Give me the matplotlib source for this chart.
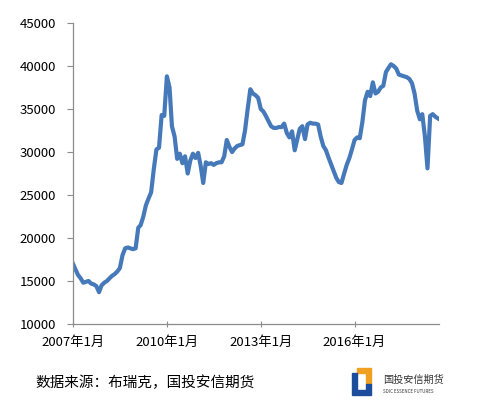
import numpy as np
import pandas as pd
import matplotlib
matplotlib.use("Agg")
import matplotlib.pyplot as plt
import matplotlib.dates as mdates
from matplotlib.patches import Polygon

plt.rcParams['font.family'] = ['Noto Sans CJK SC', 'DejaVu Sans']

# monthly price, 2007-01 .. 2018-09
months = pd.date_range("2007-01-01", periods=141, freq="MS")
price = [
    17000, 16300, 15700, 15300, 14800, 14900, 15000, 14700, 14600, 14400, 13700, 14500,
    14800, 15000, 15300, 15600, 15800, 16100, 16500, 18000, 18800, 18900, 18800, 18700,
    18800, 21200, 21500, 22500, 23800, 24600, 25300, 28000, 30300, 30500, 34300, 34200,
    38800, 37500, 33000, 31800, 29200, 29800, 28700, 29500, 27500, 29000, 29800, 29300,
    29900, 28300, 26400, 28800, 28600, 28700, 28500, 28700, 28800, 28800, 29500, 31400,
    30600, 30000, 30400, 30700, 30800, 30900, 32500, 35000, 37300, 36800, 36600, 36300,
    35000, 34700, 34200, 33600, 33000, 32800, 32800, 32900, 32900, 33300, 32200, 31700,
    32400, 30200, 31400, 32700, 33000, 31500, 33200, 33400, 33300, 33300, 33200, 31800,
    30700, 30200, 29400, 28600, 27800, 27000, 26500, 26400, 27500, 28500, 29300, 30300,
    31400, 31700, 31600, 33500, 36000, 37000, 36500, 38100, 36800, 37000, 37500, 37700,
    39300, 39800, 40200, 40000, 39700, 39000, 38900, 38800, 38700, 38500, 38000, 36800,
    34800, 33800, 34400, 31800, 28100, 34200, 34400, 34100, 33900,
]
tick_dates = pd.to_datetime(["2007-01-01", "2010-01-01", "2013-01-01", "2016-01-01"])
tick_labels = ["2007年1月", "2010年1月", "2013年1月", "2016年1月"]
yticks = [10000, 15000, 20000, 25000, 30000, 35000, 40000, 45000]

fig = plt.figure(figsize=(4.78, 4.11), dpi=100)
ax = fig.add_axes([0.1527, 0.2117, 0.7653, 0.7323])

ax.plot(months, price, color='#4679b9', lw=3.0, solid_joinstyle='round')

ax.set_ylim(10000, 45000)
ax.set_yticks(yticks)
ax.set_yticklabels([str(v) for v in yticks])
ax.set_xlim(pd.Timestamp("2007-01-01"), pd.Timestamp("2018-09-10"))
ax.set_xticks(tick_dates)
ax.set_xticklabels(tick_labels)

for s in ['top', 'right']:
    ax.spines[s].set_visible(False)
for s in ['left', 'bottom']:
    ax.spines[s].set_color('#8c8c8c')
    ax.spines[s].set_linewidth(0.9)
ax.tick_params(axis='y', direction='out', length=4, color='#8c8c8c', labelsize=9.5, pad=8)
ax.tick_params(axis='x', direction='inout', length=5, color='#8c8c8c', labelsize=9.5, pad=6)

fig.text(35 / 478, 1 - 383 / 411, "数据来源：布瑞克，国投安信期货", fontsize=10.5,
         va='center', ha='left', fontweight='medium')

# logo
def px(x, y):
    return (x / 478, 1 - y / 411)

orange = Polygon([px(357, 368), px(371, 368), px(371, 384), px(366, 384), px(366, 373), px(357, 373)],
                 closed=True, transform=fig.transFigure, color='#f0a020')
blue = Polygon([px(352, 373), px(357, 373), px(357, 390), px(366, 390), px(366, 384), px(371, 384),
                px(371, 395), px(352, 395)],
               closed=True, transform=fig.transFigure, color='#1c4c9c')
fig.patches.extend([orange, blue])
fig.text(*px(383, 380), "国投安信期货", fontsize=7.3, va='center', ha='left', color='#333333')
fig.text(*px(383, 391), "SDIC ESSENCE FUTURES", fontsize=3.2, va='center', ha='left', color='#333333')

fig.savefig("out.png", dpi=100)
